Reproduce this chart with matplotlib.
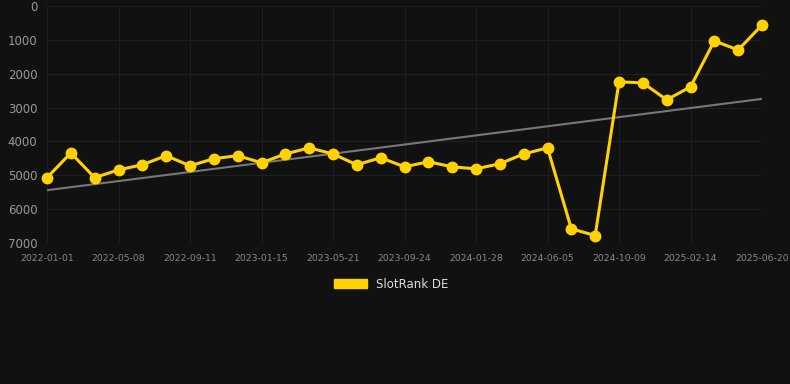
import numpy as np
import pandas as pd
import matplotlib
matplotlib.use("Agg")
import matplotlib.pyplot as plt
import matplotlib.dates as mdates
from matplotlib.patches import Patch

# rank values (lower = better)
rank = [5070, 4340, 5070, 4840, 4690, 4420, 4720, 4510, 4420, 4630,
        4370, 4190, 4370, 4690, 4480, 4750, 4600, 4750, 4810, 4660,
        4370, 4190, 6580, 6780, 2240, 2270, 2770, 2390, 1030, 1300, 560]
start = pd.Timestamp("2022-01-01")
end = pd.Timestamp("2025-06-20")
dates = pd.date_range(start, end, periods=len(rank))
tick_labels = ["2022-01-01", "2022-05-08", "2022-09-11", "2023-01-15", "2023-05-21",
               "2023-09-24", "2024-01-28", "2024-06-05", "2024-10-09", "2025-02-14",
               "2025-06-20"]
yticks = [0, 1000, 2000, 3000, 4000, 5000, 6000, 7000]

bg = "#111111"
yellow = "#FFD200"

fig = plt.figure(figsize=(7.9, 3.84), dpi=100, facecolor=bg)
ax = fig.add_axes([47/790, 1 - 243/384, 715/790, 237/384], facecolor=bg)

x = mdates.date2num(dates)
# linear trend
k, b = np.polyfit(x, rank, 1)
ax.plot(x, k * x + b, color="#777777", lw=1.5, zorder=2)
ax.plot(x, rank, color=yellow, lw=2.2, marker="o", ms=7.5, zorder=3, clip_on=False)

ax.set_xlim(x[0], x[-1])
ax.set_ylim(7000, 0)
ax.set_yticks(yticks)
ax.set_xticks(np.linspace(x[0], x[-1], len(tick_labels)))
ax.set_xticklabels(tick_labels)
ax.tick_params(axis="x", colors="#888888", labelsize=6.7, length=0, pad=8)
ax.tick_params(axis="y", colors="#999999", labelsize=8.5, length=0, pad=7)
ax.grid(True, color="#1e1e1e", lw=0.8)
for s in ax.spines.values():
    s.set_visible(False)

fig.legend(handles=[Patch(color=yellow, label="SlotRank DE")],
           loc="center", bbox_to_anchor=(0.495, 1 - 284/384), frameon=False,
           handlelength=2.8, handleheight=0.9, labelcolor="#dddddd", fontsize=8.5)

fig.savefig("out.png", dpi=100, facecolor=bg)
